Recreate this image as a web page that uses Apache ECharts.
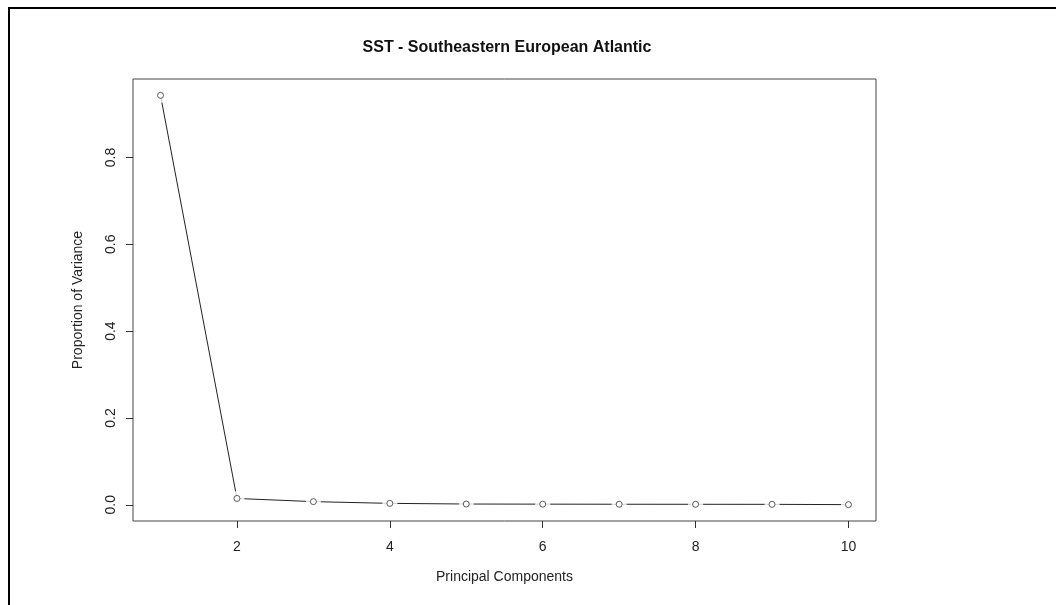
<!DOCTYPE html>
<html>
<head>
<meta charset="utf-8">
<script src="https://cdn.jsdelivr.net/npm/echarts@6/dist/echarts.min.js"></script>
<style>
html,body{margin:0;padding:0;background:#fff;}
#chart{width:1056px;height:605px;}
</style>
</head>
<body>
<div id="chart"></div>
<script>
const components = [1, 2, 3, 4, 5, 6, 7, 8, 9, 10];
const variance = [0.943, 0.0145, 0.0072, 0.0032, 0.0017, 0.0014, 0.0012, 0.0011, 0.0010, 0.0003];
const xTicks = [2, 4, 6, 8, 10];
const yTicks = [0, 0.2, 0.4, 0.6, 0.8];
const yTickLabels = ['0.0', '0.2', '0.4', '0.6', '0.8'];

const pts = components.map((c, i) => [c, variance[i]]);
const font = '"Liberation Sans", Arial, sans-serif';
const textColor = '#222';

const chart = echarts.init(document.getElementById('chart'));
chart.setOption({
  animation: false,
  backgroundColor: '#fff',
  title: {
    text: 'SST - Southeastern European Atlantic',
    left: 502, top: 35, textAlign: 'center',
    textStyle: {fontFamily: font, fontWeight: 'bold', fontSize: 16, color: '#111'}
  },
  graphic: [
    {type: 'line', shape: {x1: 8, y1: 8, x2: 1056, y2: 8}, style: {stroke: '#000', lineWidth: 2}},
    {type: 'line', shape: {x1: 9, y1: 7, x2: 9, y2: 605}, style: {stroke: '#000', lineWidth: 2}}
  ],
  grid: {left: 133, top: 79, right: 180, bottom: 84, show: true, borderColor: '#444', borderWidth: 1, backgroundColor: 'transparent'},
  xAxis: {
    type: 'value', min: 0.64, max: 10.36,
    name: 'Principal Components', nameLocation: 'middle', nameGap: 49,
    nameTextStyle: {fontFamily: font, fontSize: 14, color: textColor},
    axisLine: {show: false, onZero: false},
    splitLine: {show: false},
    axisTick: {show: true, inside: false, length: 7, customValues: xTicks, lineStyle: {color: '#333'}},
    axisLabel: {customValues: xTicks, fontFamily: font, fontSize: 14, color: textColor, margin: 19}
  },
  yAxis: {
    type: 'value', min: -0.0374, max: 0.9807,
    name: 'Proportion of Variance', nameLocation: 'middle', nameGap: 48, nameRotate: 90,
    nameTextStyle: {fontFamily: font, fontSize: 14, color: textColor},
    axisLine: {show: false, onZero: false},
    splitLine: {show: false},
    axisTick: {show: true, inside: false, length: 7, customValues: yTicks, lineStyle: {color: '#333'}},
    axisLabel: {
      customValues: yTicks, rotate: 90, fontFamily: font, fontSize: 14, color: textColor, margin: 15,
      formatter: v => yTickLabels[yTicks.findIndex(t => Math.abs(t - v) < 1e-9)] ?? ''
    }
  },
  series: [
    {type: 'line', data: pts, showSymbol: false, lineStyle: {color: '#222', width: 1}, silent: true, z: 2},
    {type: 'scatter', data: pts, symbol: 'circle', symbolSize: 15, itemStyle: {color: '#fff'}, silent: true, z: 3},
    {type: 'scatter', data: pts, symbol: 'circle', symbolSize: 6, itemStyle: {color: '#fff', borderColor: '#333', borderWidth: 1}, silent: true, z: 4}
  ]
});
</script>
</body>
</html>
